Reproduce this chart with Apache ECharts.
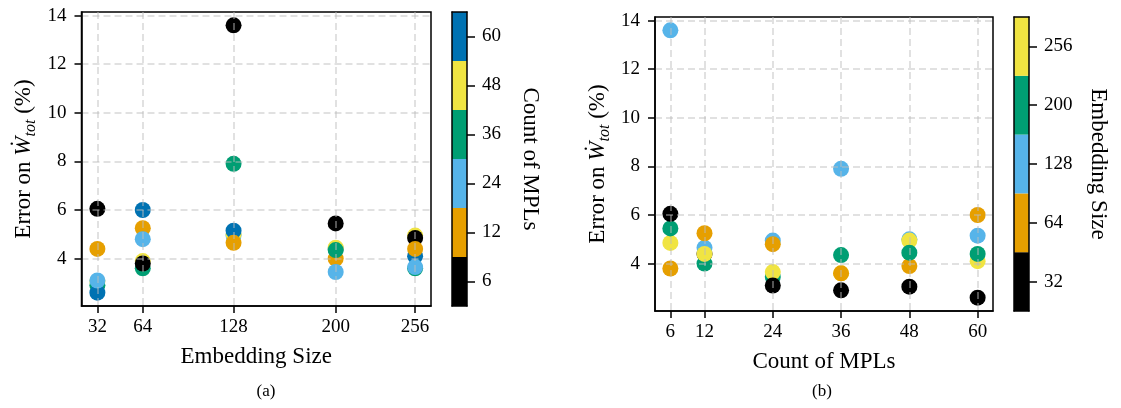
<!DOCTYPE html>
<html>
<head>
<meta charset="utf-8">
<script src="https://cdn.jsdelivr.net/npm/echarts@6/dist/echarts.min.js"></script>
<style>
  html, body { margin: 0; padding: 0; background: #fff; }
  #chart { width: 1121px; height: 408px; }
</style>
</head>
<body>
<div id="chart"></div>
<script>
// Tested model settings
const embeddingSizes = [32, 64, 128, 200, 256];
const mplCounts = [6, 12, 24, 36, 48, 60];

// Error on W_tot (%) per embedding size, one value per MPL count (6, 12, 24, 36, 48, 60)
const errorEmb32  = [6.05, 4.40, 3.10, 2.90, 3.05, 2.60];
const errorEmb64  = [3.80, 5.25, 4.80, 3.60, 3.90, 6.00];
const errorEmb128 = [13.60, 4.65, 4.95, 7.90, 5.00, 5.15];
const errorEmb200 = [5.45, 4.00, 3.45, 4.35, 4.45, 4.40];
const errorEmb256 = [4.85, 4.40, 3.65, 3.60, 4.95, 4.10];
const errorTable = [errorEmb32, errorEmb64, errorEmb128, errorEmb200, errorEmb256];

// Tick labels
const errorTicks = [4, 6, 8, 10, 12, 14];

// Okabe-Ito colours
const mplColors = ['#000000', '#E69F00', '#56B4E9', '#009E73', '#F0E442', '#0072B2'];
const embColors = ['#000000', '#E69F00', '#56B4E9', '#009E73', '#F0E442'];

// Order in which the points of each column are plotted (later = on top)
const leftDrawOrder = [
  [4, 3, 5, 2, 1, 0],
  [4, 3, 0, 1, 2, 5],
  [2, 4, 5, 1, 3, 0],
  [5, 4, 1, 3, 2, 0],
  [4, 0, 5, 3, 2, 1]
];
const rightDrawOrder = [
  [1, 4, 3, 0, 2],
  [0, 3, 2, 4, 1],
  [3, 4, 0, 2, 1],
  [4, 1, 0, 3, 2],
  [2, 4, 1, 3, 0],
  [4, 3, 2, 1, 0]
];

const FONT = "'Liberation Serif', 'DejaVu Serif', serif";
const TICK_SIZE = 19;
const TITLE_SIZE = 23;

const leftData = [];
embeddingSizes.forEach((e, i) => {
  leftDrawOrder[i].forEach(j => {
    leftData.push({ value: [e, errorTable[i][j]], itemStyle: { color: mplColors[j] } });
  });
});
const rightData = [];
mplCounts.forEach((m, j) => {
  rightDrawOrder[j].forEach(i => {
    rightData.push({ value: [m, errorTable[i][j]], itemStyle: { color: embColors[i] } });
  });
});

// matplotlib-style 5% margins around the data
function padded(values) {
  const lo = Math.min(...values), hi = Math.max(...values);
  const m = (hi - lo) * 0.05;
  return [lo - m, hi + m];
}
const allErrors = [].concat(...errorTable);
const yRange = padded(allErrors);
const xRangeLeft = padded(embeddingSizes);
const xRangeRight = padded(mplCounts);

const gridLine = { show: true, lineStyle: { color: 'rgba(190,190,190,0.6)', width: 1.5, type: [7, 4] } };
const spine = { show: true, onZero: false, lineStyle: { color: '#000', width: 1.5 } };
const tickStyle = { show: true, inside: false, length: 7, lineStyle: { color: '#000', width: 1.5 } };
const tickLabel = { color: '#000', fontFamily: FONT, fontSize: TICK_SIZE };

function mainX(grid, range, ticks, name) {
  return {
    gridIndex: grid, type: 'value', min: range[0], max: range[1], z: 5,
    axisLine: spine,
    axisTick: Object.assign({ customValues: ticks }, tickStyle),
    axisLabel: Object.assign({ customValues: ticks, margin: 12 }, tickLabel),
    splitLine: gridLine,
    name: name, nameLocation: 'middle', nameGap: 39,
    nameTextStyle: { color: '#000', fontFamily: FONT, fontSize: TITLE_SIZE }
  };
}
function mainY(grid) {
  return {
    gridIndex: grid, type: 'value', min: yRange[0], max: yRange[1], z: 5,
    axisLine: spine,
    axisTick: Object.assign({ customValues: errorTicks }, tickStyle),
    axisLabel: Object.assign({ customValues: errorTicks, margin: 15 }, tickLabel),
    splitLine: gridLine,
    name: 'Error on {w|Ẇ}{s|tot} (%)', nameLocation: 'middle', nameGap: 44,
    nameTextStyle: {
      color: '#000', fontFamily: FONT, fontSize: TITLE_SIZE, lineHeight: 27,
      rich: {
        w: { fontFamily: FONT, fontSize: TITLE_SIZE, fontStyle: 'italic', color: '#000', lineHeight: 27 },
        s: { fontFamily: FONT, fontSize: 16, fontStyle: 'italic', color: '#000', lineHeight: 16, padding: [14, 0, 0, 0] }
      }
    }
  };
}

// Colour bar: bottom/top frame edges
function cbarEdgeX(grid, position) {
  return {
    gridIndex: grid, type: 'value', min: 0, max: 1, position: position, z: 5,
    axisLine: spine, axisTick: { show: false }, axisLabel: { show: false }, splitLine: { show: false }
  };
}
// Colour bar: category axis holding the colour blocks (left frame edge)
function cbarBlocks(grid, labels) {
  return {
    gridIndex: grid, type: 'category', data: labels, position: 'left', z: 5,
    axisLine: spine, axisTick: { show: false }, axisLabel: { show: false }, splitLine: { show: false }
  };
}
// Colour bar: right frame edge with a tick and label at the centre of every block
function cbarScale(grid, labels, name, gap) {
  const centres = labels.map((_, k) => k + 0.5);
  return {
    gridIndex: grid, type: 'value', min: 0, max: labels.length, position: 'right', z: 5,
    axisLine: spine,
    axisTick: { show: true, customValues: centres, length: 8, lineStyle: { color: '#000', width: 1.5 } },
    axisLabel: Object.assign({
      customValues: centres, margin: 15,
      formatter: v => labels[Math.round(v - 0.5)]
    }, tickLabel),
    splitLine: { show: false },
    name: name, nameLocation: 'middle', nameRotate: -90, nameGap: gap,
    nameTextStyle: { color: '#000', fontFamily: FONT, fontSize: TITLE_SIZE }
  };
}

const mplLabels = mplCounts.map(String);
const embLabels = embeddingSizes.map(String);

const chart = echarts.init(document.getElementById('chart'), null, { renderer: 'canvas' });
chart.setOption({
  animation: false,
  backgroundColor: '#fff',
  grid: [
    { left: 81.5, top: 12, width: 349.5, height: 294, show: true, borderColor: '#000', borderWidth: 1.5, backgroundColor: 'transparent' },
    { left: 655, top: 17, width: 338, height: 294, show: true, borderColor: '#000', borderWidth: 1.5, backgroundColor: 'transparent' },
    { left: 452, top: 12, width: 15, height: 294 },
    { left: 1014, top: 17, width: 15, height: 294 }
  ],
  xAxis: [
    mainX(0, xRangeLeft, embeddingSizes, 'Embedding Size'),
    mainX(1, xRangeRight, mplCounts, 'Count of MPLs'),
    cbarEdgeX(2, 'bottom'),
    cbarEdgeX(3, 'bottom'),
    cbarEdgeX(2, 'top'),
    cbarEdgeX(3, 'top')
  ],
  yAxis: [
    mainY(0),
    mainY(1),
    cbarBlocks(2, mplLabels),
    cbarBlocks(3, embLabels),
    cbarScale(2, mplLabels, 'Count of MPLs', 52),
    cbarScale(3, embLabels, 'Embedding Size', 58)
  ],
  series: [
    { type: 'scatter', xAxisIndex: 0, yAxisIndex: 0, symbol: 'circle', symbolSize: 16, itemStyle: { opacity: 1 }, data: leftData },
    { type: 'scatter', xAxisIndex: 1, yAxisIndex: 1, symbol: 'circle', symbolSize: 16, itemStyle: { opacity: 1 }, data: rightData },
    {
      type: 'bar', xAxisIndex: 2, yAxisIndex: 2, barWidth: '100%', silent: true, z: 2,
      data: mplColors.map(c => ({ value: 1, itemStyle: { color: c } }))
    },
    {
      type: 'bar', xAxisIndex: 3, yAxisIndex: 3, barWidth: '100%', silent: true, z: 2,
      data: embColors.map(c => ({ value: 1, itemStyle: { color: c } }))
    }
  ],
  graphic: [
    { type: 'text', x: 266, y: 392, style: { text: '(a)', fill: '#000', font: "17px 'Liberation Serif', serif", align: 'center', verticalAlign: 'middle' } },
    { type: 'text', x: 822, y: 392, style: { text: '(b)', fill: '#000', font: "17px 'Liberation Serif', serif", align: 'center', verticalAlign: 'middle' } }
  ]
});
</script>
</body>
</html>
